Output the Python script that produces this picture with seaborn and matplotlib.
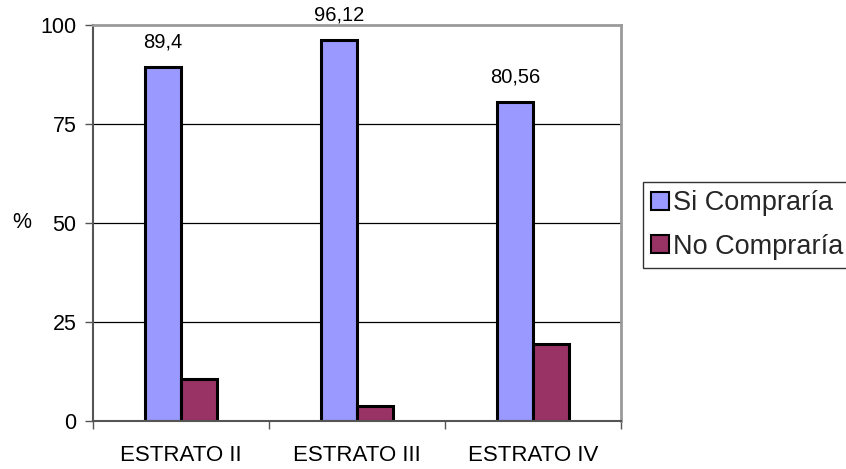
import matplotlib
matplotlib.use("Agg")
import matplotlib.pyplot as plt
import seaborn as sns
import pandas as pd
from matplotlib.ticker import FixedLocator

# Data
estratos = ["ESTRATO II", "ESTRATO III", "ESTRATO IV"]
si_compraria = [89.4, 96.12, 80.56]
no_compraria = [10.6, 3.88, 19.44]
series = ["Si Compraría", "No Compraría"]
si_labels = ["89,4", "96,12", "80,56"]
y_ticks = [0, 25, 50, 75, 100]

df = pd.DataFrame({
    "estrato": estratos * 2,
    "serie": [series[0]] * 3 + [series[1]] * 3,
    "valor": si_compraria + no_compraria,
})

sns.set_theme(style="white")
plt.rcParams["font.family"] = ["Liberation Sans", "DejaVu Sans"]

fig = plt.figure(figsize=(8.46, 4.69), dpi=100)
ax = fig.add_axes([93 / 846, 1 - 421 / 469, (621 - 93) / 846, (421 - 25) / 469])

sns.barplot(data=df, x="estrato", y="valor", hue="serie", order=estratos,
            hue_order=series, palette=["#9999FF", "#993366"], width=0.41,
            edgecolor="black", linewidth=2.2, saturation=1, ax=ax, legend=True)

ax.set_xlim(-0.5, 2.5)
ax.set_ylim(0, 100)
ax.set_yticks(y_ticks)
ax.set_yticklabels([str(t) for t in y_ticks])
for t in y_ticks[1:4]:
    ax.axhline(t, color="black", linewidth=0.9, zorder=0)

# category boundary ticks on the x axis
ax.xaxis.set_minor_locator(FixedLocator([-0.5, 0.5, 1.5, 2.5]))
ax.tick_params(axis="x", which="major", length=0, pad=17, labelsize=16, colors="black")
ax.tick_params(axis="x", which="minor", bottom=True, length=6, width=1, color="#555555")
ax.tick_params(axis="y", left=True, length=6, width=1, color="#555555",
               pad=6, labelsize=15.5, labelcolor="black")

ax.set_xlabel("")
ax.set_ylabel("%", rotation=0, fontsize=15.5, color="black", va="center", ha="center")
ax.yaxis.set_label_coords(-71 / 528, 0.5)

for side in ["top", "right"]:
    ax.spines[side].set_color("#9a9a9a")
    ax.spines[side].set_linewidth(2)
ax.spines["left"].set_color("#555555")
ax.spines["left"].set_linewidth(1.5)
ax.spines["bottom"].set_color("#555555")
ax.spines["bottom"].set_linewidth(1.5)

# value labels above the "Si Compraría" bars
for i, (v, lab) in enumerate(zip(si_compraria, si_labels)):
    ax.annotate(lab, xy=(i - 0.1025, v), xytext=(0, 11.5), textcoords="offset points",
                ha="center", va="bottom", fontsize=14.5, color="black",
                annotation_clip=False)

handles, labels = ax.get_legend_handles_labels()
ax.get_legend().remove()
leg = fig.legend(handles, labels, loc="upper left",
                 bbox_to_anchor=(643 / 846, 1 - 182 / 469),
                 fontsize=19.5, frameon=True, fancybox=False, shadow=False,
                 handlelength=0.65, handleheight=0.65, handletextpad=0.15,
                 borderpad=0.3, labelspacing=0.65, borderaxespad=0)
leg.get_frame().set_edgecolor("black")
leg.get_frame().set_linewidth(1)
for h in leg.legend_handles:
    h.set_edgecolor("black")
    h.set_linewidth(1.5)

fig.savefig("out.png", dpi=100)
